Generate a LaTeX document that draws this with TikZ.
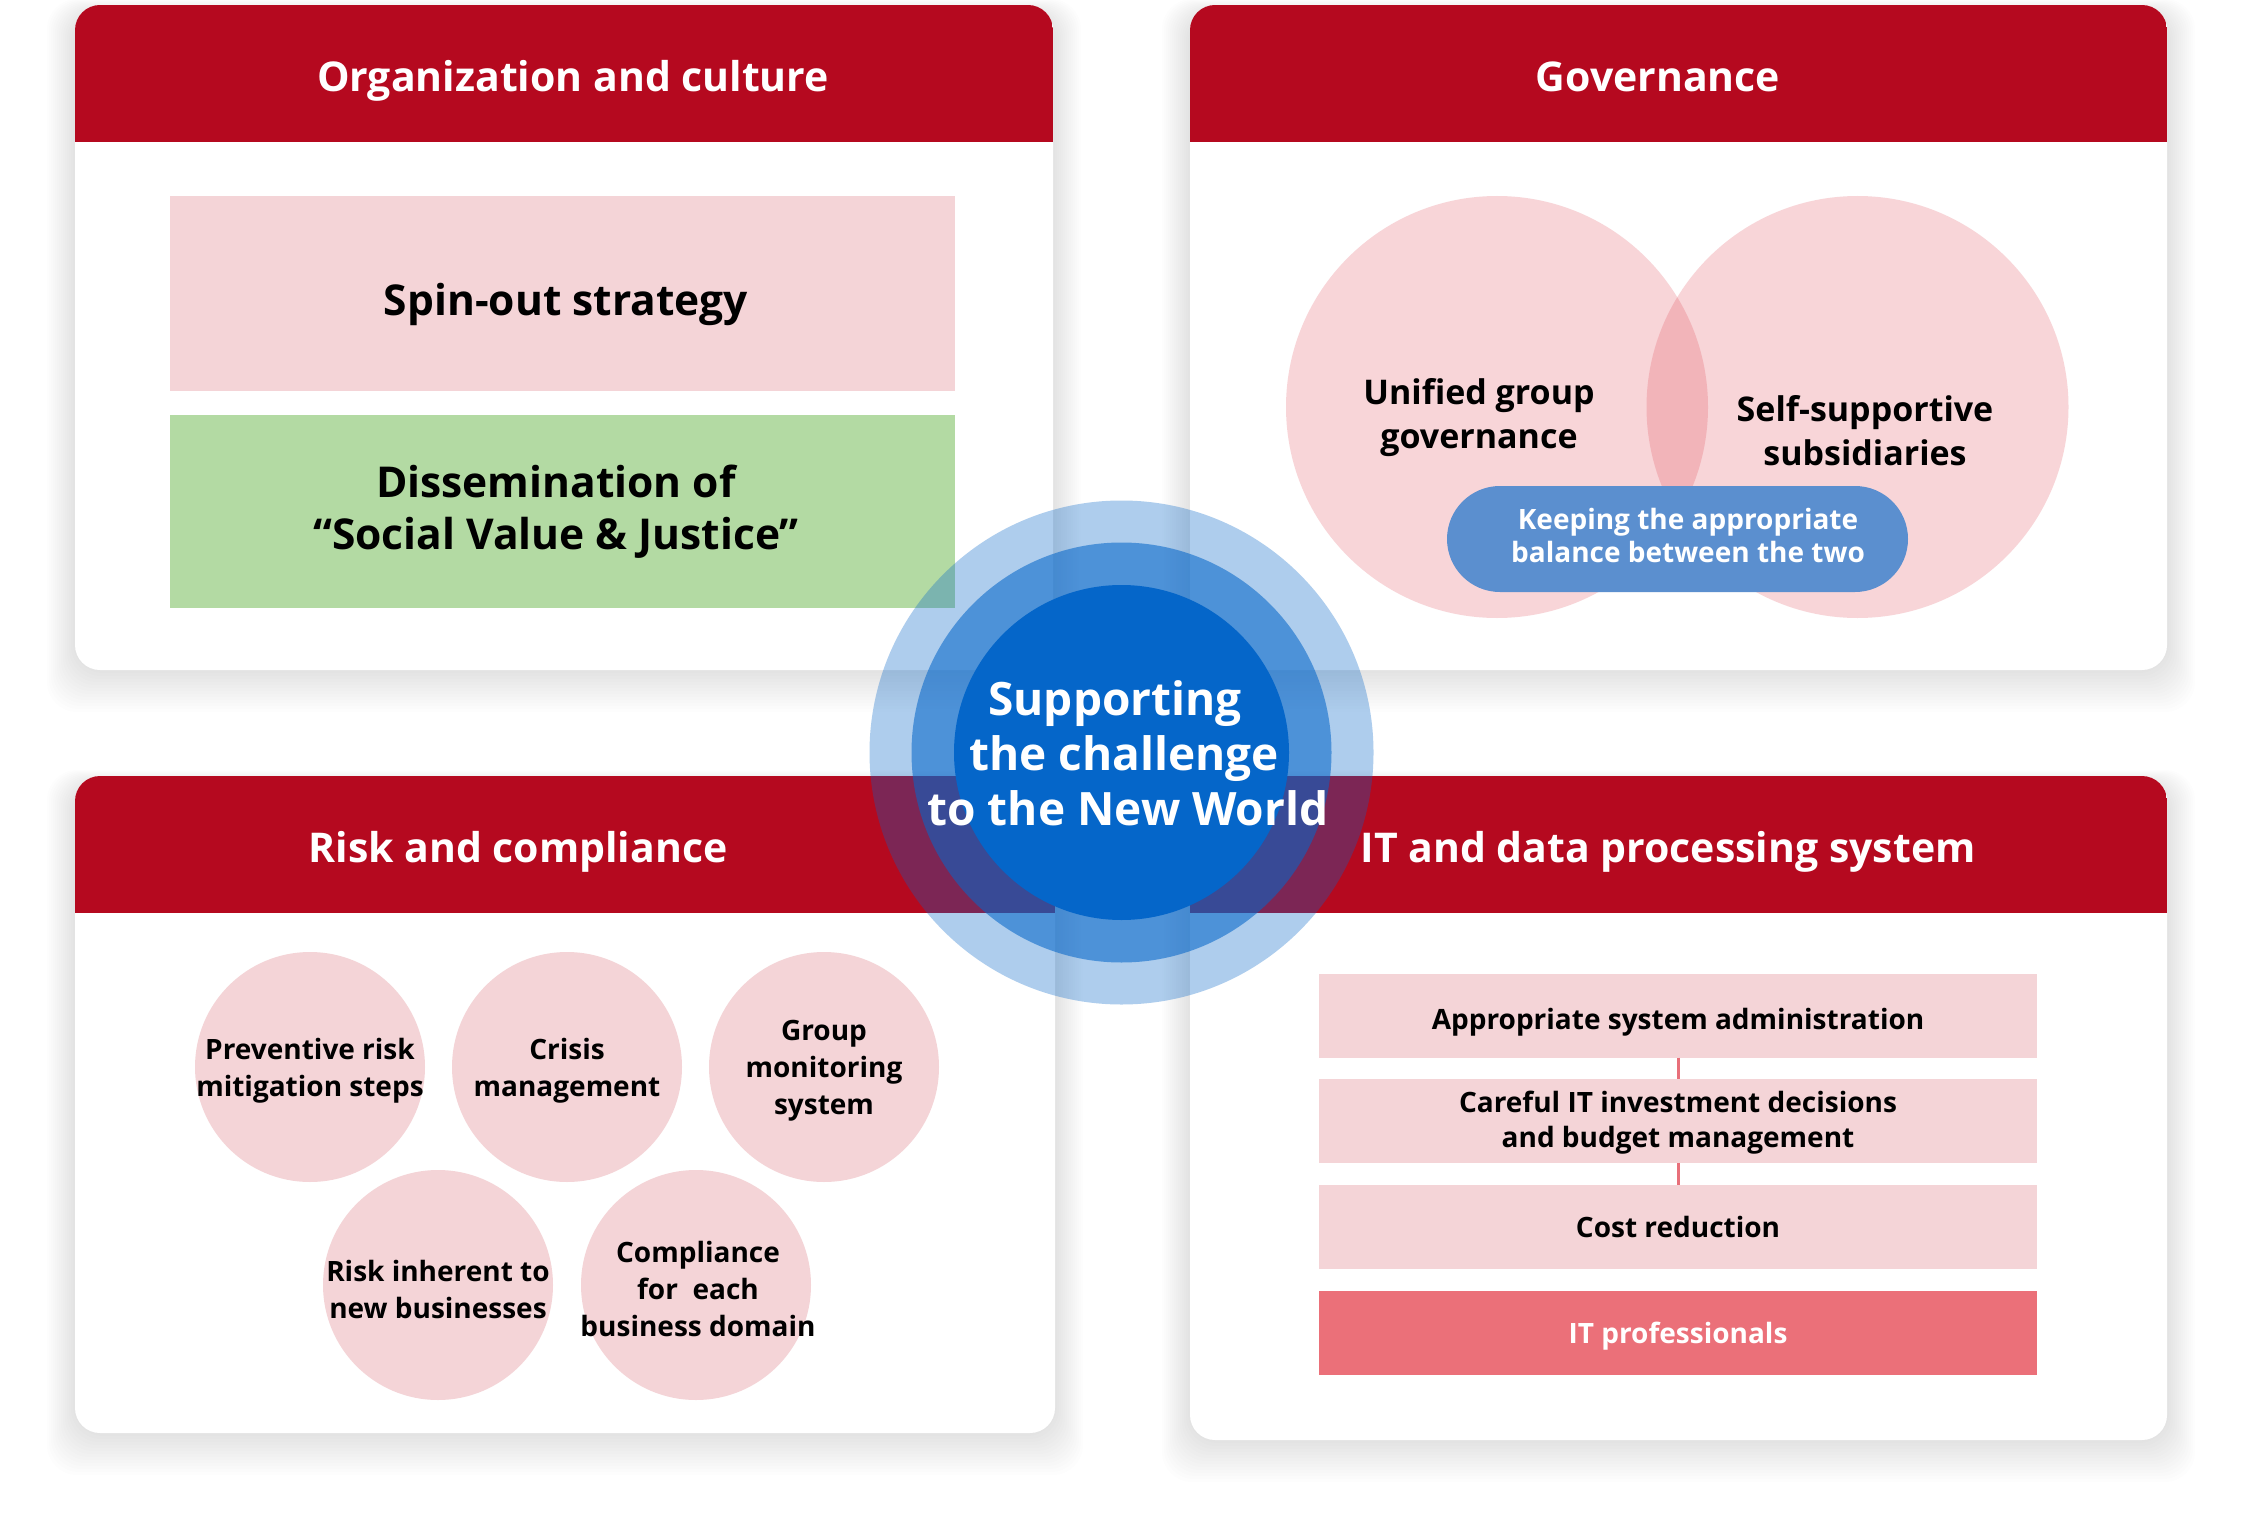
\documentclass[tikz,border=0pt]{standalone}
\usepackage{fontspec}
\setmainfont{Open Sans}
\definecolor{hdrred}{RGB}{181,9,31}
\definecolor{softpink}{RGB}{244,212,215}
\definecolor{softgreen}{RGB}{179,218,163}
\definecolor{vennpink}{RGB}{222,59,73}
\definecolor{pillblue}{RGB}{91,143,207}
\definecolor{coreblue}{RGB}{5,102,201}
\definecolor{itred}{RGB}{235,112,121}
\definecolor{linkred}{RGB}{232,112,122}
\newcommand\fsz[2]{\fontsize{#1}{#2}\selectfont\bfseries}
\newcommand\cardbox[5]{%
  \foreach \i in {1,...,14}{%
    \fill[black, fill opacity=0.006, rounded corners=30pt] (#1-2*\i, #2+8-\i) rectangle (#3+2*\i, #4+3*\i);}
  \fill[white, rounded corners=25pt] (#1,#2) rectangle (#3,#4);
  \begin{scope}
    \clip[rounded corners=25pt] (#1,#2) rectangle (#3,#4);
    \fill[hdrred] (#1,#2) rectangle (#3,#5);
  \end{scope}}
\begin{document}
\begin{tikzpicture}[x=1pt,y=-1pt,
  hdr/.style={text=white, font=\fsz{41}{50}, anchor=base, inner sep=0pt},
  txt/.style={text=black, align=center, inner sep=0pt},
  pinkbox/.style={fill=softpink, inner sep=0pt, minimum width=785pt, minimum height=195pt},
  vennc/.style={circle, fill=vennpink, fill opacity=0.21, minimum size=422pt, inner sep=0pt},
  riskc/.style={circle, fill=softpink, minimum size=230pt, inner sep=0pt},
  itbox/.style={fill=softpink, minimum width=718pt, minimum height=84pt, inner sep=0pt},
  ring/.style={circle, fill=coreblue, inner sep=0pt}]
\useasboundingbox (0,0) rectangle (2243,1522);
\fill[white] (0,0) rectangle (2243,1522);

% cards
\cardbox{75}{5}{1053}{670}{142}
\cardbox{1190}{5}{2167}{670}{142}
\cardbox{75}{776}{1055}{1433}{913}
\cardbox{1190}{776}{2167}{1440}{913}

% headers
\node[hdr] (h1) at (573,91.5) {Organization and culture};
\node[hdr] (h2) at (1658,91.5) {Governance};
\node[hdr] (h3) at (518,862.5) {Risk and compliance};
\node[hdr] (h4) at (1668,862.5) {IT and data processing system};

% organization and culture
\node[pinkbox] (spin) at (562.5,293.5) {};
\node[txt, font=\fsz{42.5}{52}, anchor=base] (spint) at (566,315.5) {Spin-out strategy};
\node[pinkbox, fill=softgreen, minimum height=193pt] (diss) at (562.5,511.5) {};
\node[txt, font=\fsz{42.5}{52}] (disst) at (556,512) {Dissemination of\\“Social Value \& Justice”};

% governance
\node[vennc] (vl) at (1497,407) {};
\node[vennc] (vr) at (1857.5,407) {};
\node[txt, font=\fsz{34}{44}] (ugg) at (1479,418) {Unified group\\governance};
\node[txt, font=\fsz{34}{44}] (ssb) at (1865,431) {Self-supportive\\subsidiaries};
\node[fill=pillblue, rounded corners=53pt, minimum width=461pt, minimum height=106pt, inner sep=0pt] (pill) at (1677.5,539) {};
\node[txt, text=white, font=\fsz{28}{33}] (pillt) at (1688,535) {Keeping the appropriate\\balance between the two};

% risk and compliance
\node[riskc] (r1) at (310,1067) {};
\node[riskc] (r2) at (567,1067) {};
\node[riskc] (r3) at (824,1067) {};
\node[riskc] (r4) at (438,1285) {};
\node[riskc] (r5) at (696,1285) {};
\node[txt, font=\fsz{28}{37}] (r1t) at (310,1071) {Preventive risk\\mitigation steps};
\node[txt, font=\fsz{28}{37}] (r2t) at (567,1071) {Crisis\\management};
\node[txt, font=\fsz{28}{37}] (r3t) at (824,1071) {Group\\monitoring\\system};
\node[txt, font=\fsz{28}{37}] (r4t) at (438,1289) {Risk inherent to\\new businesses};
\node[txt, font=\fsz{28}{37}] (r5t) at (698,1289) {Compliance\\for~ each\\business domain};

% IT and data processing
\node[itbox] (it1) at (1678,1015.5) {};
\node[itbox] (it2) at (1678,1121) {};
\node[itbox] (it3) at (1678,1227) {};
\node[itbox, fill=itred] (it4) at (1678,1333) {};
\draw[linkred, line width=3pt] (it1.south) -- (it2.north);
\draw[linkred, line width=3pt] (it2.south) -- (it3.north);
\node[txt, font=\fsz{28}{35}] (it1t) at (1678,1022) {Appropriate system administration};
\node[txt, font=\fsz{28}{35}] (it2t) at (1678,1123) {Careful IT investment decisions\\and budget management};
\node[txt, font=\fsz{28}{35}] (it3t) at (1678,1227) {Cost reduction};
\node[txt, text=white, font=\fsz{28}{35}] (it4t) at (1678,1336) {IT professionals};

% central rings
\node[ring, fill opacity=0.32, minimum size=504pt] (ringa) at (1121.5,752.5) {};
\node[ring, fill opacity=0.57, minimum size=420pt] (ringb) at (1121.5,752.5) {};
\node[ring, minimum size=335pt] (ringc) at (1121.5,752.5) {};
\node[txt, text=white, font=\fsz{46}{55}] (core) at (1124,753) {\kern-18pt Supporting\\the challenge\\\kern8pt to the New World};
\end{tikzpicture}
\end{document}
